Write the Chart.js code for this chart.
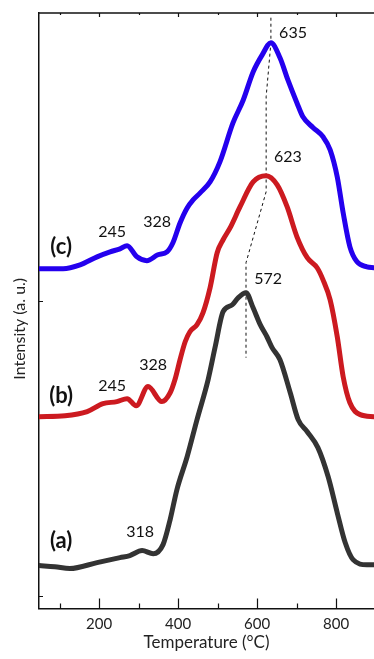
<!DOCTYPE html>
<html>
<head>
<meta charset="utf-8">
<script src="https://cdn.jsdelivr.net/npm/chart.js@4.4.0/dist/chart.umd.min.js"></script>
<style>
  html, body { margin: 0; padding: 0; background: #fff; }
</style>
</head>
<body>
<canvas id="tpr" width="374" height="659"></canvas>
<script>
// H2-TPR profiles, temperature in °C, intensity in a.u. (traces stacked)
var tempA = [48, 88, 126, 195, 253, 278, 309, 337, 362, 380, 397, 423, 448, 476, 494, 514, 537, 552, 572, 590, 608, 625, 638, 658, 684, 704, 727, 754, 780, 803, 823, 843, 878, 896];
var intA  = [102, 98, 92, 112, 129, 136, 153, 142, 173, 258, 359, 471, 597, 732, 844, 963, 986, 1010, 1027, 976, 919, 878, 841, 800, 688, 597, 556, 502, 403, 281, 180, 122, 105, 105];

var tempB = [48, 114, 170, 210, 245, 271, 294, 324, 359, 380, 392, 405, 418, 430, 448, 463, 481, 499, 514, 532, 557, 590, 623, 651, 676, 701, 727, 752, 767, 785, 803, 818, 835, 861, 896];
var intB  = [607, 610, 624, 651, 658, 668, 644, 709, 658, 688, 732, 800, 861, 895, 919, 959, 1044, 1163, 1207, 1248, 1319, 1403, 1424, 1393, 1319, 1217, 1146, 1112, 1071, 1003, 878, 742, 654, 614, 607];

var tempC = [48, 109, 152, 195, 228, 253, 271, 296, 321, 349, 372, 387, 405, 423, 438, 456, 481, 506, 539, 565, 590, 613, 635, 658, 678, 701, 716, 742, 767, 785, 803, 818, 835, 853, 878, 896];
var intC  = [1109, 1109, 1122, 1149, 1166, 1176, 1187, 1149, 1136, 1156, 1166, 1197, 1264, 1315, 1342, 1366, 1403, 1471, 1603, 1681, 1776, 1834, 1875, 1824, 1749, 1671, 1624, 1587, 1556, 1512, 1420, 1298, 1183, 1132, 1115, 1112];

// guide through the main peaks
var tempGuide = [635, 635, 623, 623, 572, 572];
var intGuide  = [1960, 1875, 1692, 1370, 1129, 807];

var peakText = ['635', '623', '572', '245', '328', '245', '328', '318'];
var peakTemp = [691, 678, 628, 233, 347, 233, 337, 304];
var peakInt  = [1909, 1488, 1075, 1234, 1268, 712, 783, 217];

var traceText = ['(a)', '(b)', '(c)'];
var traceTemp = [104, 104, 104];
var traceInt  = [186, 678, 1183];

var xTickValues = [100, 200, 300, 400, 500, 600, 700, 800];
var xTickLabelled = [200, 400, 600, 800];
var yTickValues = [0, 1000];

function pts(xs, ys) {
  return xs.map(function (x, i) { return { x: x, y: ys[i] }; });
}

var FONT = 'Lato, "Open Sans", sans-serif';
var AXIS = '#111';

var frame = {
  id: 'frame',
  afterDraw: function (chart) {
    var ctx = chart.ctx, a = chart.chartArea;
    var xs = chart.scales.x, ys = chart.scales.y;
    ctx.save();
    ctx.strokeStyle = AXIS;
    ctx.lineWidth = 1.5;
    ctx.beginPath();
    ctx.moveTo(a.left, a.top);
    ctx.lineTo(a.right, a.top);
    ctx.stroke();
    ctx.lineWidth = 1.2;
    ctx.beginPath();
    xTickValues.forEach(function (v) {
      var px = Math.round(xs.getPixelForValue(v)) + 0.5;
      var major = xTickLabelled.indexOf(v) >= 0;
      ctx.moveTo(px, a.bottom);
      ctx.lineTo(px, a.bottom - (major ? 10 : 5));
      ctx.moveTo(px, a.top);
      ctx.lineTo(px, a.top + (major ? 4 : 2));
    });
    yTickValues.forEach(function (v) {
      var py = Math.round(ys.getPixelForValue(v)) + 0.5;
      ctx.moveTo(a.left, py);
      ctx.lineTo(a.left + 4, py);
    });
    ctx.stroke();

    // y axis title, sitting a little below the axis middle
    ctx.fillStyle = '#222';
    ctx.font = '16px ' + FONT;
    ctx.textAlign = 'center';
    ctx.textBaseline = 'middle';
    ctx.translate(20, (a.top + a.bottom) / 2 + 18);
    ctx.rotate(-Math.PI / 2);
    ctx.fillText('Intensity (a. u.)', 0, 0);
    ctx.restore();
  },
  afterDatasetsDraw: function (chart) {
    var ctx = chart.ctx;
    var xs = chart.scales.x, ys = chart.scales.y;
    ctx.save();
    ctx.fillStyle = '#111';
    ctx.textAlign = 'center';
    ctx.textBaseline = 'middle';
    ctx.font = '16px ' + FONT;
    peakText.forEach(function (t, i) {
      ctx.fillText(t, xs.getPixelForValue(peakTemp[i]), ys.getPixelForValue(peakInt[i]));
    });
    ctx.font = 'bold 22px ' + FONT;
    traceText.forEach(function (t, i) {
      ctx.fillText(t, xs.getPixelForValue(traceTemp[i]), ys.getPixelForValue(traceInt[i]));
    });
    ctx.restore();
  }
};

function trace(data, color) {
  return {
    data: data,
    borderColor: color,
    borderWidth: 5,
    pointRadius: 0,
    cubicInterpolationMode: 'monotone',
    borderCapStyle: 'round',
    borderJoinStyle: 'round',
    fill: false
  };
}

var guide = {
  data: pts(tempGuide, intGuide),
  borderColor: '#111',
  borderWidth: 1,
  borderDash: [3, 3],
  pointRadius: 0,
  tension: 0,
  fill: false
};

new Chart(document.getElementById('tpr').getContext('2d'), {
  type: 'line',
  data: {
    datasets: [
      trace(pts(tempA, intA), '#333333'),
      trace(pts(tempB, intB), '#cc1a20'),
      trace(pts(tempC, intC), '#2400ee'),
      guide
    ]
  },
  options: {
    responsive: false,
    animation: false,
    layout: { padding: { left: 39, top: 13, right: 0, bottom: 0 } },
    plugins: { legend: { display: false }, tooltip: { enabled: false } },
    scales: {
      x: {
        type: 'linear',
        min: 48,
        max: 896,
        afterBuildTicks: function (s) {
          s.ticks = xTickValues.map(function (v) { return { value: v }; });
        },
        grid: { display: false, drawTicks: false },
        border: { display: true, color: AXIS, width: 1.5 },
        ticks: {
          padding: 7,
          autoSkip: false,
          maxRotation: 0,
          color: '#222',
          font: { family: FONT, size: 15 },
          callback: function (v) { return xTickLabelled.indexOf(v) >= 0 ? String(v) : ''; }
        },
        title: {
          display: true,
          text: 'Temperature (°C)',
          color: '#222',
          font: { family: FONT, size: 17 },
          padding: { top: -8, bottom: 6 }
        }
      },
      y: {
        type: 'linear',
        min: -44,
        max: 1976,
        grid: { display: false, drawTicks: false },
        border: { display: true, color: AXIS, width: 1.5 },
        ticks: { display: false },
        title: { display: false }
      }
    }
  },
  plugins: [frame]
});
</script>
</body>
</html>
